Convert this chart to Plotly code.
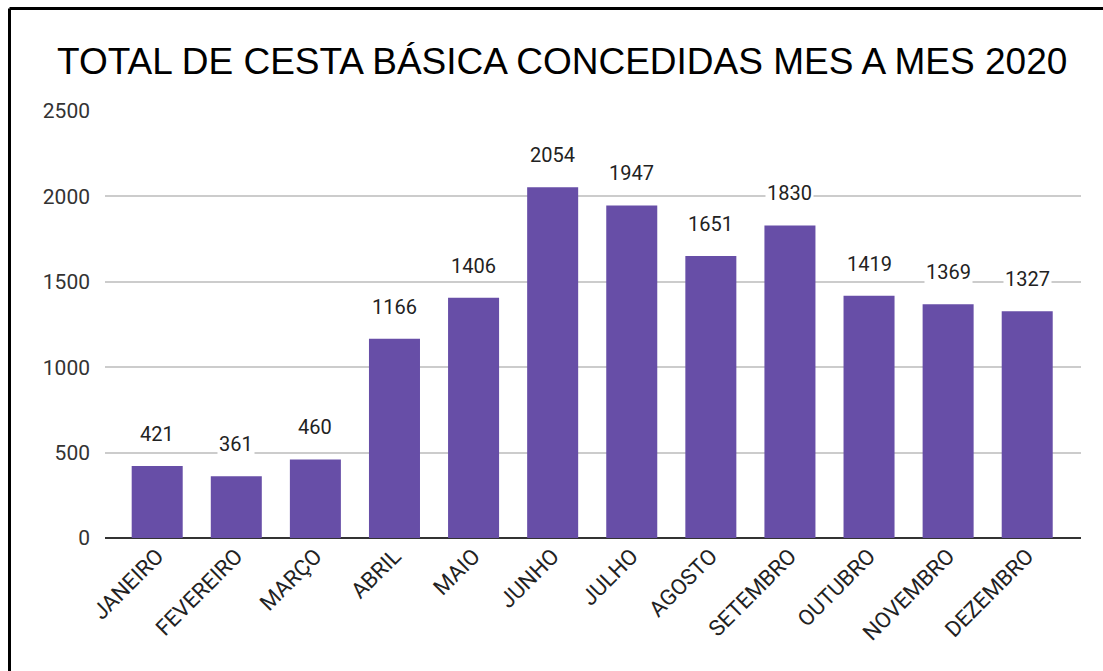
import plotly.graph_objects as go

months = ["JANEIRO", "FEVEREIRO", "MARÇO", "ABRIL", "MAIO", "JUNHO", "JULHO",
          "AGOSTO", "SETEMBRO", "OUTUBRO", "NOVEMBRO", "DEZEMBRO"]
values = [421, 361, 460, 1166, 1406, 2054, 1947, 1651, 1830, 1419, 1369, 1327]
y_ticks = [0, 500, 1000, 1500, 2000, 2500]
title_text = "TOTAL DE CESTA BÁSICA CONCEDIDAS MES A MES 2020"

fig = go.Figure()
fig.add_trace(go.Bar(
    x=months, y=values, marker=dict(color="#674ea7", line=dict(width=0)),
    width=0.645, hoverinfo="x+y",
))

annotations = []
for m, v in zip(months, values):
    annotations.append(dict(
        x=m, y=v, xref="x", yref="y", text=str(v), showarrow=False,
        yanchor="middle", yshift=32, bgcolor="white", borderpad=1,
        font=dict(family="Roboto", size=20, color="#222222"),
    ))
annotations.append(dict(
    x=(561.5 - 105) / 976, xref="paper", y=(538 - 61.5) / 427, yref="paper",
    text=title_text, showarrow=False, xanchor="center", yanchor="middle",
    font=dict(family="Liberation Sans, Arial", size=37, color="#000000"),
))

fig.update_layout(
    width=1103, height=671,
    margin=dict(l=105, r=22, t=111, b=133),
    paper_bgcolor="white", plot_bgcolor="white",
    showlegend=False,
    annotations=annotations,
    xaxis=dict(
        range=[-0.66, 11.68], tickangle=-45, showgrid=False,
        tickfont=dict(family="Roboto", size=22, color="#222222"),
        showline=False, ticks="",
    ),
    yaxis=dict(
        range=[0, 2500], tickvals=y_ticks, showgrid=True,
        gridcolor="#cccccc", gridwidth=1.5,
        zeroline=True, zerolinecolor="#333333", zerolinewidth=2,
        tickfont=dict(family="Roboto", size=21, color="#333333"),
        ticks="", ticklabelstandoff=14,
    ),
    shapes=[
        dict(type="line", xref="paper", yref="paper",
             x0=(9.5 - 105) / 976, x1=(1110 - 105) / 976,
             y0=(538 - 8.5) / 427, y1=(538 - 8.5) / 427,
             line=dict(color="black", width=3)),
        dict(type="line", xref="paper", yref="paper",
             x0=(9.5 - 105) / 976, x1=(9.5 - 105) / 976,
             y0=(538 - 8.5) / 427, y1=(538 - 690) / 427,
             line=dict(color="black", width=3)),
    ],
)

fig.write_html("out.html", config={"displayModeBar": False},
               post_script="document.body.style.margin='0';")
